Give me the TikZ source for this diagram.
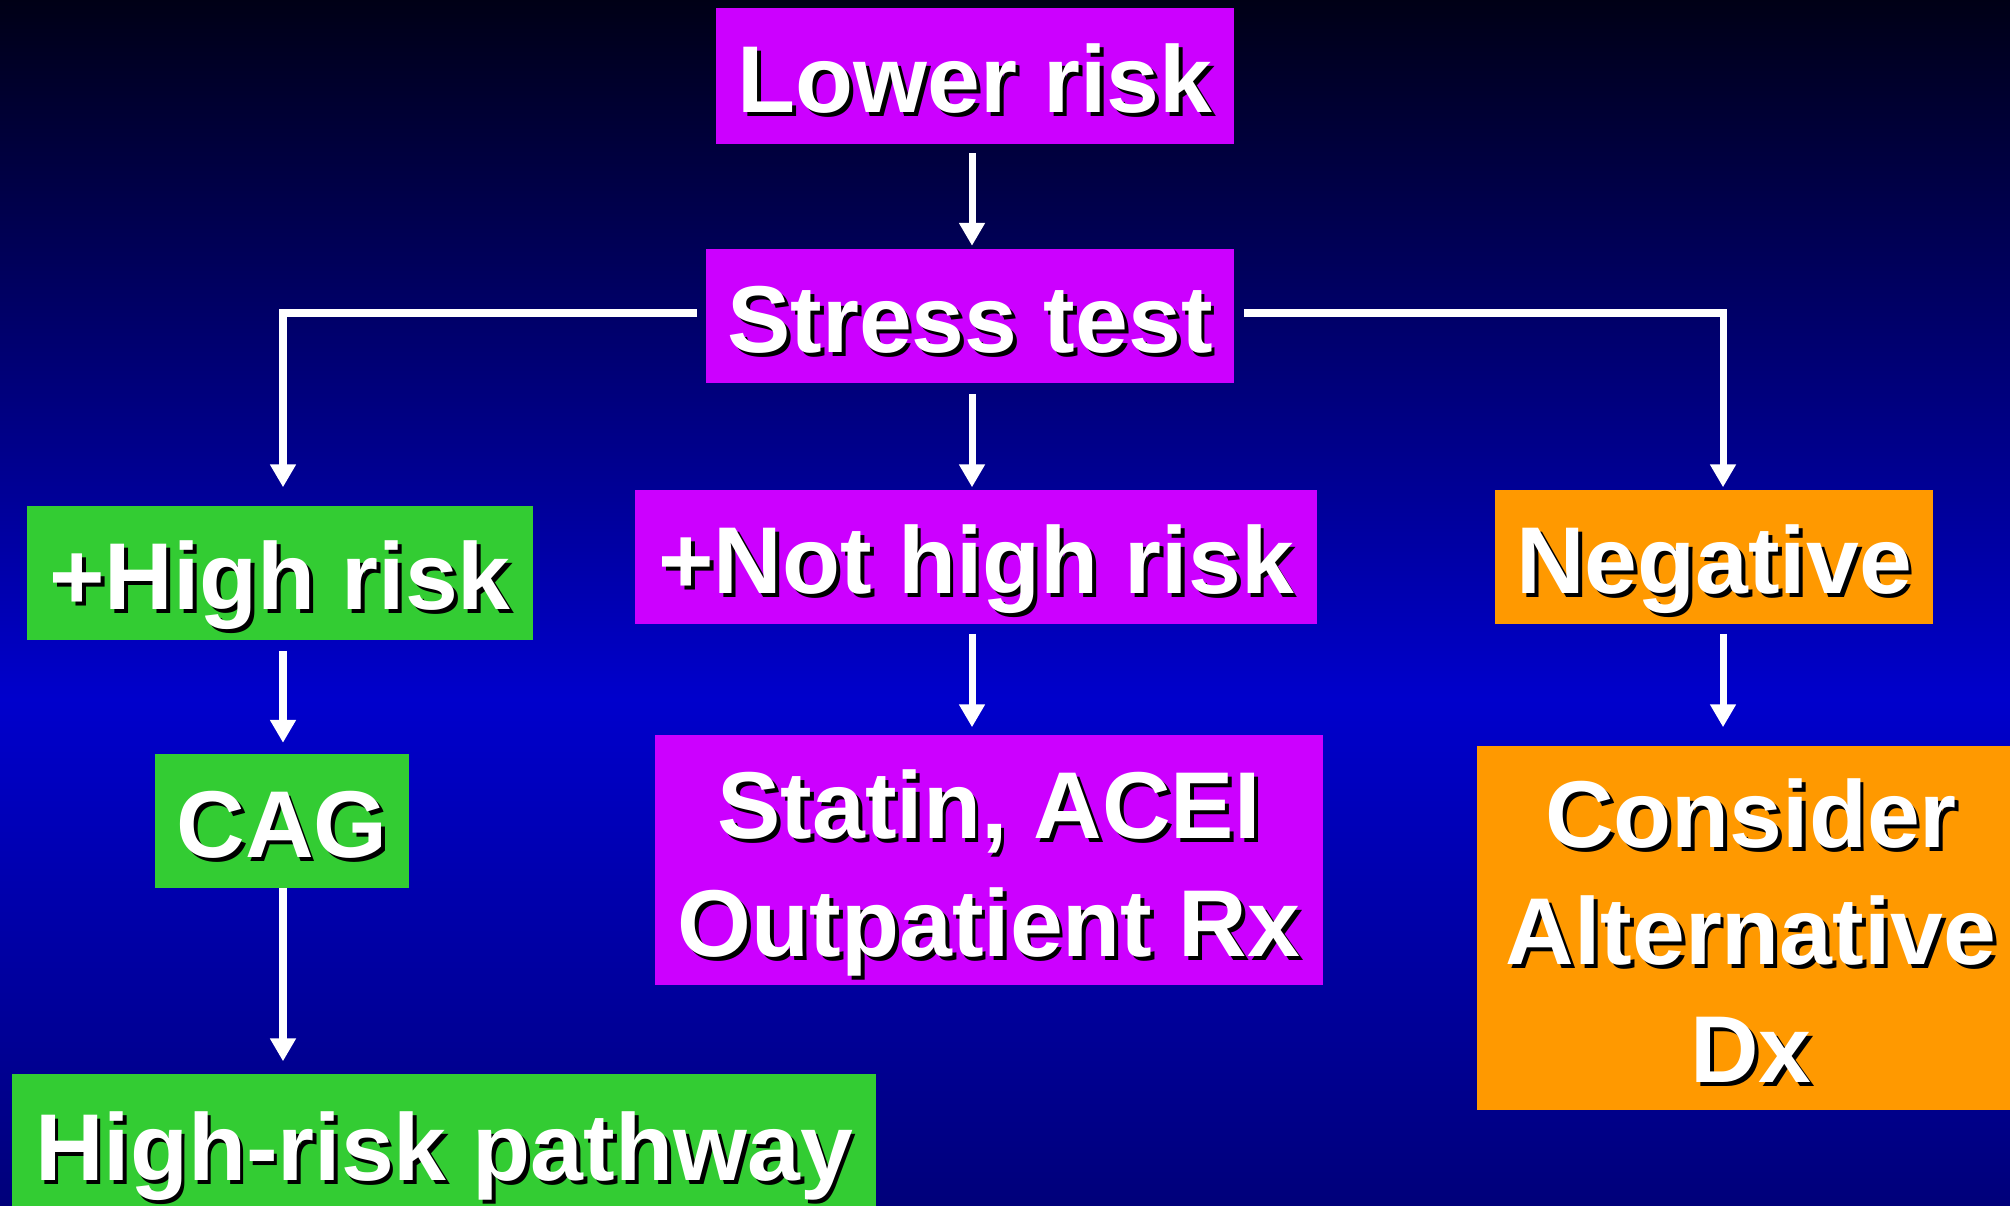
\documentclass[tikz,border=0pt]{standalone}
\usepackage{fontspec}
\newfontfamily\slidefont{Liberation Sans}
\usetikzlibrary{arrows.meta}

\definecolor{violetbox}{RGB}{204,0,255}
\definecolor{greenbox}{RGB}{51,204,51}
\definecolor{orangebox}{RGB}{255,153,0}
\definecolor{bgtop}{RGB}{0,0,22}
\definecolor{bgmid}{RGB}{0,0,204}
\definecolor{bgbot}{RGB}{0,0,122}

% the path is fitted into the middle 50bp of the shading
\pgfdeclareverticalshading{slidebg}{100bp}{color(0bp)=(bgbot); color(25bp)=(bgbot);
  color(46bp)=(bgmid); color(75bp)=(bgtop); color(100bp)=(bgtop)}

% white text with a small black drop shadow
\newcommand\shtxt[1]{\makebox[0pt][l]{\hspace{1.1pt}\raisebox{-1.1pt}{\color{black}#1}}#1}

\begin{document}
\begin{tikzpicture}
  [x=0.01cm,y=-0.01cm,
   every node/.style={rectangle,inner sep=0pt,align=center,text=white,
     text height=21pt,text depth=0pt,
     font=\slidefont\bfseries\fontsize{27pt}{33.5pt}\selectfont},
   vbox/.style={fill=violetbox},
   gbox/.style={fill=greenbox},
   obox/.style={fill=orangebox},
   arr/.style={draw=white,line width=2pt,-{Triangle[width=7pt,length=6.5pt]}}]

  \useasboundingbox (0,0) rectangle (2010,1205);
  \clip (0,0) rectangle (2010,1205);
  \shade[shading=slidebg] (0,0) rectangle (2010,1205);

  \node[vbox,minimum width=5.17cm,minimum height=1.35cm] (lower) at (975,76) {\shtxt{Lower risk}};
  \node[vbox,minimum width=5.28cm,minimum height=1.33cm] (stress) at (970,316) {\shtxt{Stress test}};

  \node[gbox,minimum width=5.05cm,minimum height=1.34cm] (highrisk) at (280,573) {\shtxt{+High risk}};
  \node[vbox,minimum width=6.81cm,minimum height=1.34cm] (nothigh) at (976,557) {\shtxt{+Not high risk}};
  \node[obox,minimum width=4.38cm,minimum height=1.34cm] (negative) at (1714,557) {\shtxt{Negative}};

  \node[gbox,minimum width=2.53cm,minimum height=1.33cm] (cag) at (282,821) {\shtxt{CAG}};
  \node[vbox,minimum width=6.68cm,minimum height=2.50cm,text height=55pt] (statin) at (989,860)
    {\shtxt{Statin, ACEI}\\\shtxt{Outpatient Rx}};
  \node[obox,minimum width=5.48cm,minimum height=3.64cm,text height=88pt] (consider) at (1751,928)
    {\shtxt{Consider}\\\shtxt{Alternative}\\\shtxt{Dx}};
  \node[gbox,minimum width=8.64cm,minimum height=1.40cm] (pathway) at (444,1144) {\shtxt{High-risk pathway}};

  % the three arrow columns and the branch line
  \coordinate (leftx) at (283,313);
  \coordinate (midx) at (972,313);
  \coordinate (rightx) at (1723,313);

  \draw[arr,shorten <=.09cm,shorten >=.03cm] (lower.south -| midx) -- (stress.north -| midx);
  \draw[arr,shorten <=.11cm,shorten >=.02cm] (stress.south -| midx) -- (nothigh.north -| midx);
  \draw[arr,shorten <=.08cm,shorten >=.18cm] (stress.west |- leftx) -| (highrisk.north -| leftx);
  \draw[arr,shorten <=.09cm,shorten >=.02cm] (stress.east |- rightx) -| (negative.north -| rightx);
  \draw[arr,shorten <=.10cm,shorten >=.11cm] (highrisk.south -| leftx) -- (cag.north -| leftx);
  \draw[arr,shorten >=.12cm] (cag.south -| leftx) -- (pathway.north -| leftx);
  \draw[arr,shorten <=.09cm,shorten >=.07cm] (nothigh.south -| midx) -- (statin.north -| midx);
  \draw[arr,shorten <=.09cm,shorten >=.18cm] (negative.south -| rightx) -- (consider.north -| rightx);

\end{tikzpicture}
\end{document}
